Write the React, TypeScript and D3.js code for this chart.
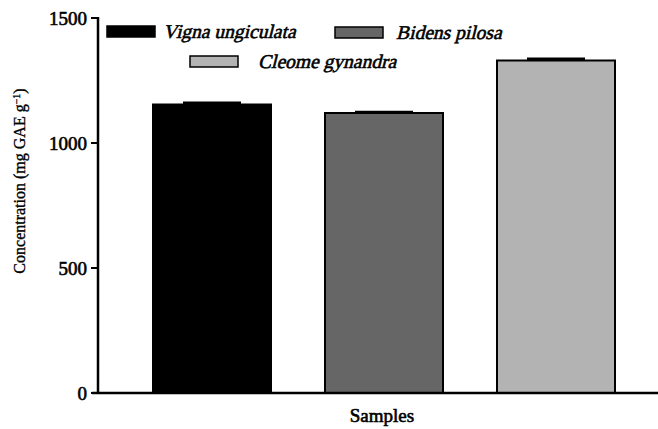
import { useEffect, useRef } from 'react'
import * as d3 from 'd3'

const samples = ['Vigna ungiculata', 'Bidens pilosa', 'Cleome gynandra']
const values = [1154, 1120, 1330]
const errors = [12, 9, 12]
const fills = ['#000000', '#666666', '#b3b3b3']
const yTicks = [0, 500, 1000, 1500]

export default function App() {
  const svgRef = useRef<SVGSVGElement>(null)

  useEffect(() => {
    if (!svgRef.current) return
    const W = 658
    const H = 429
    const svg = d3.select(svgRef.current)
    svg.selectAll('*').remove()
    svg.attr('width', W).attr('height', H)

    const font = '"Liberation Serif", serif'
    const x0 = 98
    const x1 = 658
    const yTop = 18
    const yBot = 393

    const x = d3.scaleBand().domain(samples).range([153, 615]).paddingInner(0.314).paddingOuter(0)
    const y = d3.scaleLinear().domain([0, 1500]).range([yBot, yTop])

    // faux bold: only the regular serif face is around
    const boldish = (t: d3.Selection<SVGTextElement, unknown, any, undefined>, w = 0.6) =>
      t.attr('font-family', font).attr('stroke', '#000').attr('stroke-width', w).attr('fill', '#000')

    // Bars
    samples.forEach((s, i) => {
      svg.append('rect')
        .attr('x', x(s)!)
        .attr('y', y(values[i]))
        .attr('width', x.bandwidth())
        .attr('height', yBot - y(values[i]))
        .attr('fill', fills[i])
        .attr('stroke', '#000')
        .attr('stroke-width', 2)
    })

    // error caps (upper only)
    samples.forEach((s, i) => {
      const cx = x(s)! + x.bandwidth() / 2
      svg.append('rect')
        .attr('x', cx - 29)
        .attr('y', y(values[i] + errors[i]))
        .attr('width', 58)
        .attr('height', y(values[i]) - y(values[i] + errors[i]))
        .attr('fill', '#000')
    })

    // Axes
    svg.append('line')
      .attr('x1', x0).attr('x2', x0).attr('y1', yTop - 1).attr('y2', yBot + 1)
      .attr('stroke', '#000').attr('stroke-width', 2.5)
    svg.append('line')
      .attr('x1', x0 - 6).attr('x2', x1).attr('y1', yBot).attr('y2', yBot)
      .attr('stroke', '#000').attr('stroke-width', 2.5)

    yTicks.forEach(t => {
      svg.append('line')
        .attr('x1', x0 - 7).attr('x2', x0).attr('y1', y(t)).attr('y2', y(t))
        .attr('stroke', '#000').attr('stroke-width', 2)
      boldish(svg.append('text')
        .attr('x', x0 - 11).attr('y', y(t))
        .attr('text-anchor', 'end')
        .attr('dominant-baseline', 'central')
        .attr('font-size', '19px')
        .text(t))
    })

    // Axis titles
    const yl = boldish(svg.append('text')
      .attr('transform', 'translate(25,181) rotate(-90)')
      .attr('text-anchor', 'middle')
      .attr('font-size', '16px'), 0.35)
    yl.append('tspan').text('Concentration (mg GAE g')
    yl.append('tspan').attr('baseline-shift', 'super').attr('font-size', '10px').text('\u22121')
    yl.append('tspan').text(')')

    boldish(svg.append('text')
      .attr('x', 382).attr('y', 422)
      .attr('text-anchor', 'middle')
      .attr('font-size', '19px')
      .text('Samples'))

    // Legend
    const legend = [
      { sx: 107, sy: 26, tx: 163 },
      { sx: 335, sy: 27, tx: 396 },
      { sx: 190, sy: 56, tx: 258 },
    ]
    samples.forEach((s, i) => {
      const l = legend[i]
      svg.append('rect')
        .attr('x', l.sx).attr('y', l.sy).attr('width', 48).attr('height', 11)
        .attr('fill', fills[i]).attr('stroke', '#000').attr('stroke-width', 1.5)
      const g = svg.append('g').attr('transform', `translate(${l.tx},${l.sy + 12}) skewX(-14)`)
      boldish(g.append('text')
        .attr('x', 0).attr('y', 0)
        .attr('font-size', '19.5px')
        .text(s), 0.6)
    })
  }, [])

  return (
    <div style={{ position: 'absolute', left: 0, top: 0 }}>
      <svg ref={svgRef} style={{ display: 'block', background: '#fff' }} />
    </div>
  )
}
